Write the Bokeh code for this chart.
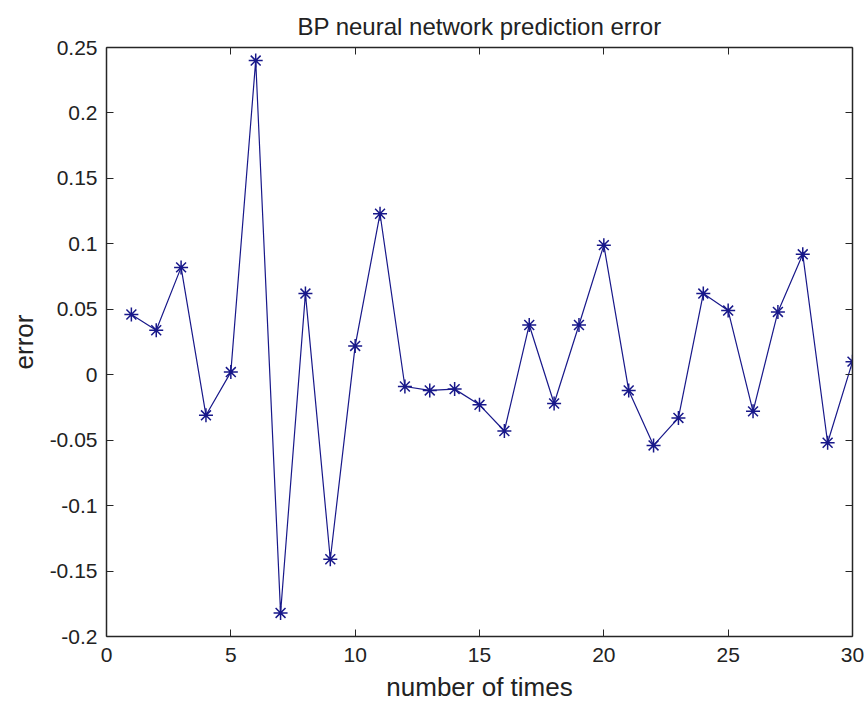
from bokeh.plotting import figure
from bokeh.models import LinearAxis, FixedTicker, Range1d, ColumnDataSource
from bokeh.embed import file_html
from bokeh.resources import INLINE

# data
times = list(range(1, 31))
errors = [0.046, 0.034, 0.082, -0.031, 0.002, 0.240, -0.182, 0.062, -0.141, 0.022,
          0.123, -0.009, -0.012, -0.011, -0.023, -0.043, 0.038, -0.022, 0.038, 0.099,
          -0.012, -0.054, -0.033, 0.062, 0.049, -0.028, 0.048, 0.092, -0.052, 0.010]

x_ticks = [0, 5, 10, 15, 20, 25, 30]
x_tick_labels = ["0", "5", "10", "15", "20", "25", "30"]
y_ticks = [-0.2, -0.15, -0.1, -0.05, 0.0, 0.05, 0.1, 0.15, 0.2, 0.25]
y_tick_labels = ["-0.2", "-0.15", "-0.1", "-0.05", "0", "0.05", "0.1", "0.15", "0.2", "0.25"]

title_text = "BP neural network prediction error"
x_label = "number of times"
y_label = "error"

FONT = "Liberation Sans"
LINE_COLOR = "#18188a"
AX_COLOR = "#262626"

src = ColumnDataSource(data=dict(x=times, y=errors))

p = figure(width=867, height=706,
           x_range=Range1d(0, 30), y_range=Range1d(-0.2, 0.25),
           output_backend="svg", toolbar_location=None,
           min_border_left=106, min_border_right=15,
           min_border_top=47, min_border_bottom=70)

p.title.text = title_text
p.title.align = "center"
p.title.text_font = FONT
p.title.text_font_size = "24px"
p.title.text_font_style = "normal"
p.title.text_color = "#222222"
p.title.standoff = 16

p.xgrid.visible = False
p.ygrid.visible = False
p.outline_line_color = None
p.background_fill_color = "white"
p.border_fill_color = "white"

def style_axis(ax, ticks, labels, show_labels=True):
    ax.ticker = FixedTicker(ticks=ticks)
    ax.major_label_overrides = dict(zip(ticks, labels))
    ax.major_tick_in = 7
    ax.major_tick_out = 0
    ax.minor_tick_in = 0
    ax.minor_tick_out = 0
    ax.axis_line_color = AX_COLOR
    ax.axis_line_width = 1.5
    ax.major_tick_line_color = AX_COLOR
    ax.major_tick_line_width = 1
    ax.major_label_text_font = FONT
    ax.major_label_text_color = "#222222"
    if show_labels:
        ax.major_label_text_font_size = "21px"
    else:
        ax.major_label_text_font_size = "0px"
        ax.major_label_standoff = 0

xa = p.xaxis[0]
ya = p.yaxis[0]
style_axis(xa, x_ticks, x_tick_labels)
style_axis(ya, y_ticks, y_tick_labels)
xa.major_label_standoff = 11
ya.major_label_standoff = 9

xa.axis_label = x_label
xa.axis_label_text_font = FONT
xa.axis_label_text_font_size = "26px"
xa.axis_label_text_font_style = "normal"
xa.axis_label_text_color = "#222222"
xa.axis_label_standoff = 7

ya.axis_label = y_label
ya.axis_label_text_font = FONT
ya.axis_label_text_font_size = "26px"
ya.axis_label_text_font_style = "normal"
ya.axis_label_text_color = "#222222"
ya.axis_label_standoff = 8

top = LinearAxis()
style_axis(top, x_ticks, ["" for _ in x_tick_labels], show_labels=False)
p.add_layout(top, "above")
right = LinearAxis()
style_axis(right, y_ticks, ["" for _ in y_tick_labels], show_labels=False)
p.add_layout(right, "right")

p.line("x", "y", source=src, line_color=LINE_COLOR, line_width=1.2)
p.scatter("x", "y", source=src, marker="asterisk", size=14,
          line_color=LINE_COLOR, line_width=1.5)

open("out.html", "w").write(file_html(p, INLINE))
